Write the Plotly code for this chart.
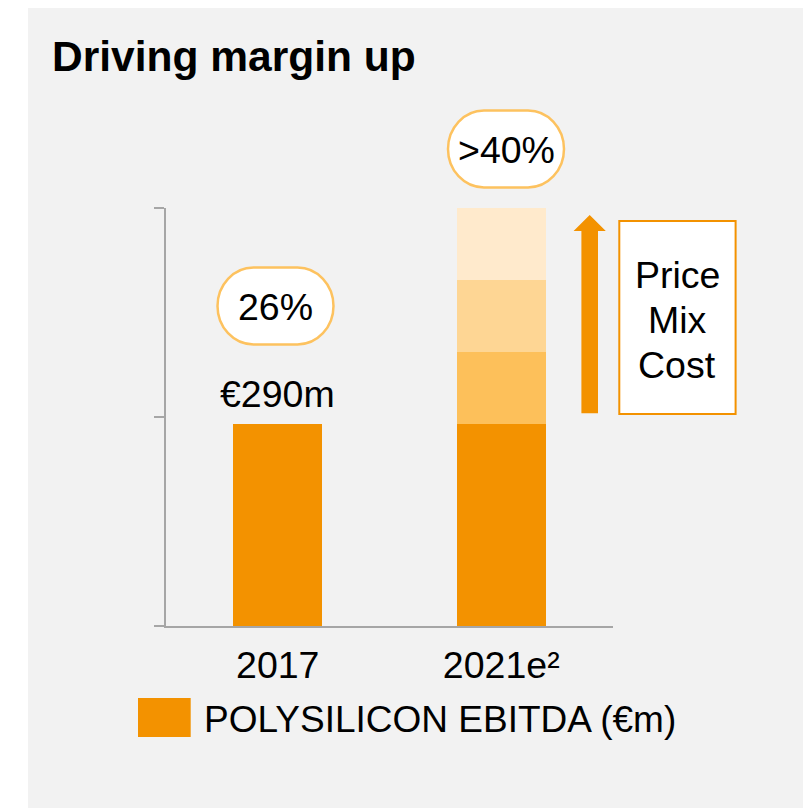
import plotly.graph_objects as go

# ---------------- data ----------------
categories = ["2017", "2021e"]
tick_labels = ["2017", "2021e²"]
ebitda_base = [290, 290]          # POLYSILICON EBITDA (€m)
uplift_price = [None, 103]
uplift_mix = [None, 103]
uplift_cost = [None, 104]
margin_labels = ["26%", ">40%"]
value_label = "€290m"
driver_text = ["Price", "Mix", "Cost"]
y_ticks = [0, 300, 600]

# ---------------- styling ----------------
OFF = 8                      # page body margin in the browser
WIN_W, WIN_H = 811, 808
W, H = WIN_W - OFF, WIN_H - OFF
L, R, T, B = 166, 613, 208, 626   # plot area in window pixels
FONT = "Liberation Sans, Arial, sans-serif"
ORANGE = "#F39200"
SHADES = ["#FDC05A", "#FED694", "#FFEACC"]
AXIS = "#A6A6A6"
BG = "#F2F2F2"
PILL = "#FDC25F"
FS = 37.5


def px(x):
    return (x - L) / (R - L)


def py(y):
    return (B - y) / (B - T)


def pt(x, y):
    return f"{px(x):.5f},{py(y):.5f}"


def pill_path(cx, cy, w, h, rx, ry):
    x0, x1 = cx - w / 2, cx + w / 2
    y0, y1 = cy - h / 2, cy + h / 2
    kx, ky = 0.5523 * rx, 0.5523 * ry
    return (
        f"M{pt(x0 + rx, y0)} L{pt(x1 - rx, y0)} "
        f"C{pt(x1 - rx + kx, y0)} {pt(x1, y0 + ry - ky)} {pt(x1, y0 + ry)} "
        f"L{pt(x1, y1 - ry)} "
        f"C{pt(x1, y1 - ry + ky)} {pt(x1 - rx + kx, y1)} {pt(x1 - rx, y1)} "
        f"L{pt(x0 + rx, y1)} "
        f"C{pt(x0 + rx - kx, y1)} {pt(x0, y1 - ry + ky)} {pt(x0, y1 - ry)} "
        f"L{pt(x0, y0 + ry)} "
        f"C{pt(x0, y0 + ry - ky)} {pt(x0 + rx - kx, y0)} {pt(x0 + rx, y0)} Z"
    )


fig = go.Figure()
fig.add_trace(go.Bar(x=categories, y=ebitda_base, name="POLYSILICON EBITDA (€m)",
                     marker=dict(color=ORANGE, line=dict(width=0)), width=0.4))
for vals, col, nm in zip([uplift_price, uplift_mix, uplift_cost], SHADES, driver_text):
    fig.add_trace(go.Bar(x=categories, y=vals, name=nm,
                         marker=dict(color=col, line=dict(width=0)), width=0.4))

shapes = [
    # panel background
    dict(type="rect", xref="paper", yref="paper", x0=px(28), x1=px(WIN_W + 2), y0=py(OFF - 2),
         y1=py(WIN_H + 2), fillcolor=BG, line=dict(width=0), layer="below"),
    # margin pills
    dict(type="path", xref="paper", yref="paper", path=pill_path(275.5, 306, 116, 77, 36, 38.5),
         fillcolor="white", line=dict(color=PILL, width=2.5), layer="above"),
    dict(type="path", xref="paper", yref="paper", path=pill_path(506, 149, 116, 77, 36, 38.5),
         fillcolor="white", line=dict(color=PILL, width=2.5), layer="above"),
    # up arrow
    dict(type="path", xref="paper", yref="paper",
         path=(f"M{pt(581.4, 413.3)} L{pt(598, 413.3)} L{pt(598, 231)} L{pt(605.8, 231)} "
               f"L{pt(589.7, 215)} L{pt(573.6, 231)} L{pt(581.4, 231)} Z"),
         fillcolor=ORANGE, line=dict(width=0), layer="above"),
    # driver box
    dict(type="rect", xref="paper", yref="paper", x0=px(619.3), x1=px(735.6), y0=py(414), y1=py(221),
         fillcolor="white", line=dict(color=ORANGE, width=2), layer="above"),
    # legend swatch
    dict(type="rect", xref="paper", yref="paper", x0=px(138), x1=px(190.7), y0=py(737), y1=py(698),
         fillcolor=ORANGE, line=dict(width=0), layer="above"),
]


def txt(text, x, y, size=FS, anchor="center"):
    return dict(text=text, xref="paper", yref="paper", x=px(x), y=py(y),
                xanchor=anchor, yanchor="middle", showarrow=False,
                font=dict(family=FONT, size=size, color="black"))


annotations = [
    txt("<b>Driving margin up</b>", 50, 56, size=42.5, anchor="left"),
    dict(text=value_label, xref="x", yref="y", x=0, y=ebitda_base[0],
         xanchor="center", yanchor="bottom", yshift=7, showarrow=False,
         font=dict(family=FONT, size=FS, color="black")),
    txt(margin_labels[0], 275.5, 307),
    txt(margin_labels[1], 506, 150),
    txt(driver_text[0], 677, 275),
    txt(driver_text[1], 677, 320),
    txt(driver_text[2], 677, 365),
    txt("POLYSILICON EBITDA (€m)", 202, 719, size=37, anchor="left"),
]

fig.update_layout(
    width=W, height=H,
    margin=dict(l=L - OFF, r=WIN_W - R, t=T - OFF, b=WIN_H - B, pad=0),
    paper_bgcolor="white", plot_bgcolor="rgba(0,0,0,0)",
    barmode="stack", showlegend=False,
    shapes=shapes, annotations=annotations,
    font=dict(family=FONT, color="black"),
    xaxis=dict(type="category", range=[-0.5, 1.5], tickvals=categories, ticktext=tick_labels,
               showline=True, linecolor=AXIS, linewidth=2, ticks="", showgrid=False,
               zeroline=False, tickfont=dict(family=FONT, size=FS, color="black"),
               ticklabelstandoff=5, fixedrange=True),
    yaxis=dict(range=[0, 600], tickvals=y_ticks, showticklabels=False, showline=True,
               linecolor=AXIS, linewidth=2, ticks="outside", ticklen=10, tickwidth=2,
               tickcolor=AXIS, showgrid=False, zeroline=False, fixedrange=True),
)

fig.write_html("out.html", config={"displayModeBar": False})
